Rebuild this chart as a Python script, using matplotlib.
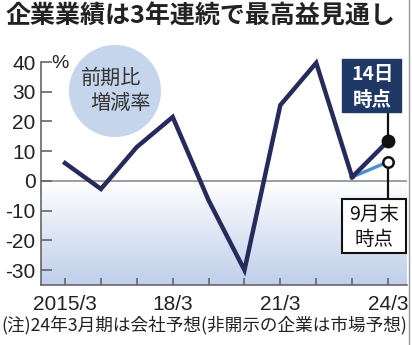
import numpy as np
import matplotlib
matplotlib.use("Agg")
import matplotlib.pyplot as plt
from matplotlib import font_manager
from matplotlib.patches import Circle, Rectangle
from matplotlib.lines import Line2D

# --- data ---------------------------------------------------------------
years = [2015, 2016, 2017, 2018, 2019, 2020, 2021, 2022, 2023]
growth = [6.0, -2.7, 11.4, 21.5, -6.5, -30.0, 25.5, 39.7, 1.3]
forecast_year = 2024
forecast_latest = 13.4     # as of the 14th
forecast_sep = 6.4         # as of end of September
yticks = [40, 30, 20, 10, 0, -10, -20, -30]
xtick_years = [2015, 2018, 2021, 2024]
xtick_labels = ["2015/3", "18/3", "21/3", "24/3"]

title = "企業業績は3年連続で最高益見通し"
note = "(注)24年3月期は会社予想(非開示の企業は市場予想)"

# --- fonts --------------------------------------------------------------
available = {f.name for f in font_manager.fontManager.ttflist}
num_font = next((f for f in ["Liberation Sans Narrow", "Liberation Sans", "DejaVu Sans"]
                 if f in available), "DejaVu Sans")
jp = ["Noto Sans CJK JP", "DejaVu Sans"]
plt.rcParams["font.family"] = jp

NAVY = "#262b5c"
LIGHT = "#4a8fd4"
GRAY = "#666666"

W, H = 412, 345
fig = plt.figure(figsize=(W / 100, H / 100), dpi=100)
ax = fig.add_axes([41 / W, 1 - 285 / H, (407 - 41) / W, (285 - 62) / H])
ax.set_xlim(2014.33, 2024.53)
ax.set_ylim(-35, 40)

# gradient below zero
grad = np.linspace(0, 1, 256).reshape(-1, 1)
top_c = np.array([1.0, 1.0, 1.0])
bot_c = np.array([0.75, 0.81, 0.92])
img = top_c + (bot_c - top_c) * grad
ax.imshow(img.reshape(256, 1, 3), extent=[2014.33, 2024.53, -35, 0],
          aspect="auto", origin="upper", zorder=0)

ax.axhline(0, color="#8c8c8c", lw=1.2, zorder=1)

# spines and ticks
for s in ["top", "right"]:
    ax.spines[s].set_visible(False)
for s in ["left", "bottom"]:
    ax.spines[s].set_color(GRAY)
    ax.spines[s].set_linewidth(1.2)
ax.set_yticks(yticks)
ax.set_yticklabels([str(v) for v in yticks])
ax.set_xticks(list(range(2015, 2025)))
ax.set_xticklabels([""] * 10)
ax.tick_params(axis="y", direction="in", length=8, width=1.2, color=GRAY,
               pad=4, labelsize=15, labelcolor="#222222")
ax.tick_params(axis="x", direction="in", length=5, width=1.2, color=GRAY)
for lab in ax.get_yticklabels():
    lab.set_family(num_font)
for yr, lb in zip(xtick_years, xtick_labels):
    ax.text(yr, -38.2, lb, ha="center", va="top", fontsize=15,
            family=num_font, color="#222222", clip_on=False)
ax.text(2014.85, 39.5, "%", ha="center", va="center", fontsize=14,
        family=num_font, color="#222222", clip_on=False)

# main series
ax.plot(years, growth, color=NAVY, lw=3.2, solid_joinstyle="miter",
        zorder=4, clip_on=False)
ax.plot([years[-1], forecast_year], [growth[-1], forecast_sep],
        color=LIGHT, lw=2.4, zorder=3, clip_on=False)
ax.plot([years[-1], forecast_year], [growth[-1], forecast_latest],
        color=NAVY, lw=3.2, zorder=4, clip_on=False)
ax.plot([forecast_year], [forecast_latest], "o", ms=9, color="#111111",
        zorder=6, clip_on=False)
ax.plot([forecast_year], [forecast_sep], "o", ms=7.5, mfc="white",
        mec="#111111", mew=1.8, zorder=6, clip_on=False)

# callouts
ax.plot([forecast_year, forecast_year], [23.2, forecast_latest], color="#111111",
        lw=1.6, zorder=5, clip_on=False)
ax.plot([forecast_year, forecast_year], [forecast_sep, -6.0], color="#111111",
        lw=1.6, zorder=5, clip_on=False)
ax.add_patch(Rectangle((2022.72, 23.2), 1.64, 17.8, facecolor="#1f3866",
                       edgecolor="#1f3866", zorder=7, clip_on=False))
ax.text(2023.56, 35.8, "14日", ha="center", va="center", fontsize=14,
        weight="bold", color="white", zorder=8, clip_on=False)
ax.text(2023.56, 27.0, "時点", ha="center", va="center", fontsize=14,
        weight="bold", color="white", zorder=8, clip_on=False)
ax.add_patch(Rectangle((2022.72, -24.3), 1.78, 18.2, facecolor="white",
                       edgecolor="#111111", lw=1.5, zorder=7, clip_on=False))
ax.text(2023.61, -11.3, "9月末", ha="center", va="center", fontsize=14,
        color="#111111", zorder=8, clip_on=False)
ax.text(2023.61, -19.7, "時点", ha="center", va="center", fontsize=14,
        color="#111111", zorder=8, clip_on=False)

# overlay in pixel coordinates for the bubble, title and note
bx = fig.add_axes([0, 0, 1, 1], facecolor="none")
bx.set_axis_off()
bx.set_xlim(0, W)
bx.set_ylim(H, 0)
bx.add_patch(Circle((115, 91), 46, facecolor="#c5d5ec", edgecolor="none", zorder=1))
bx.text(111, 78, "前期比", ha="center", va="center", fontsize=14.5, color="#333333")
bx.text(120, 103, "増減率", ha="center", va="center", fontsize=14.5, color="#333333")

bx.text(6, 17, title, ha="left", va="center", fontsize=18, weight="bold",
        color="#222222")
bx.text(1, 325, note, ha="left", va="center", fontsize=12.7, color="#222222")
bx.add_line(Line2D([409.5, 409.5], [0, H], color="#9a9a9a", lw=1.0))

fig.savefig("out.png", dpi=100)
